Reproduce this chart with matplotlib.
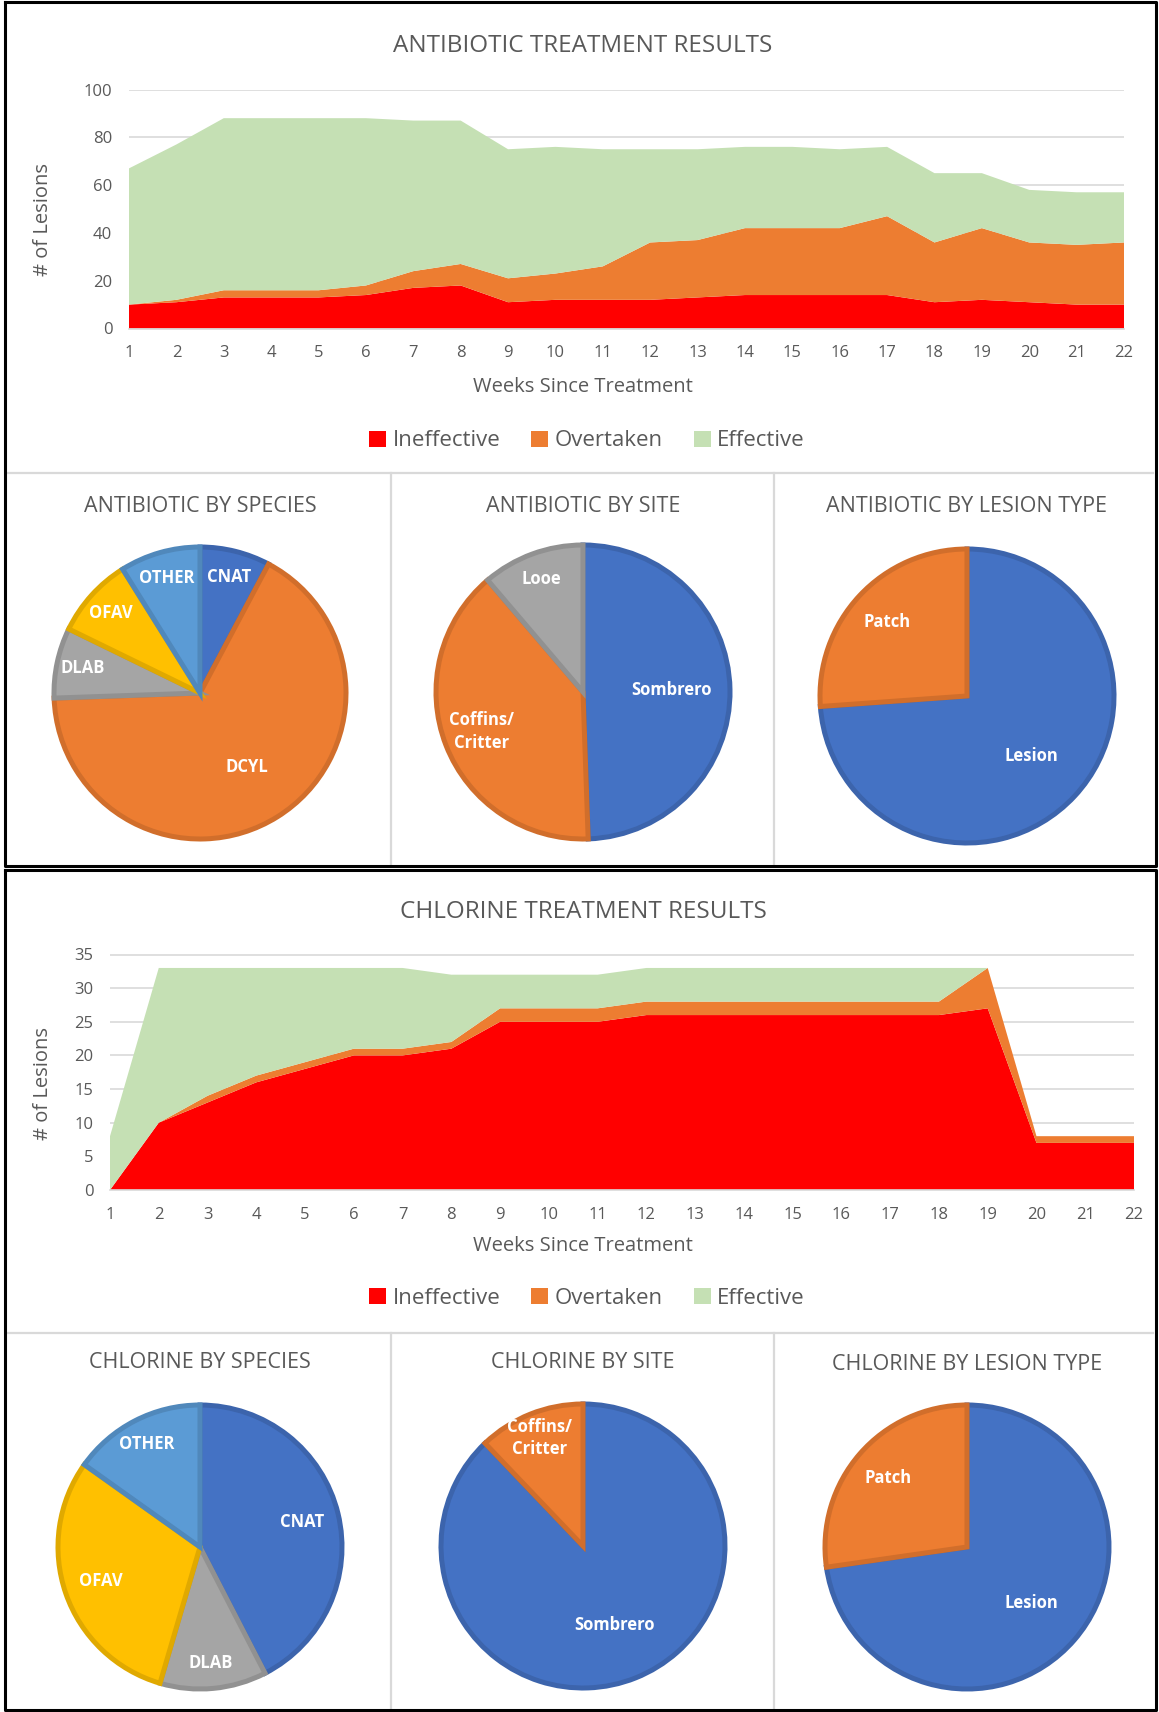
import matplotlib
matplotlib.use("Agg")
import matplotlib.pyplot as plt
from matplotlib.patches import Patch
import numpy as np

plt.rcParams['font.family'] = ['Open Sans', 'DejaVu Sans']

W, H = 1159, 1712

# ---- data ----
weeks = list(range(1, 23))

# antibiotic treatment, lesions per outcome each week
ab_ineffective = [10, 11, 13, 13, 13, 14, 17, 18, 11, 12, 12, 12, 13, 14, 14, 14, 14, 11, 12, 11, 10, 10]
ab_overtaken = [0, 1, 3, 3, 3, 4, 7, 9, 10, 11, 14, 24, 24, 28, 28, 28, 33, 25, 30, 25, 25, 26]
ab_effective = [57, 65, 72, 72, 72, 70, 63, 60, 54, 53, 49, 39, 38, 34, 34, 33, 29, 29, 23, 22, 22, 21]

# chlorine treatment, lesions per outcome each week
cl_ineffective = [0, 10, 13, 16, 18, 20, 20, 21, 25, 25, 25, 26, 26, 26, 26, 26, 26, 26, 27, 7, 7, 7]
cl_overtaken = [0, 0, 1, 1, 1, 1, 1, 1, 2, 2, 2, 2, 2, 2, 2, 2, 2, 2, 6, 1, 1, 1]
cl_effective = [8, 23, 19, 16, 14, 12, 12, 10, 5, 5, 5, 5, 5, 5, 5, 5, 5, 5, 0, 0, 0, 0]

outcome_names = ['Ineffective', 'Overtaken', 'Effective']

ab_species_names = ['CNAT', 'DCYL', 'DLAB', 'OFAV', 'OTHER']
ab_species_counts = [7, 60, 7, 8, 8]
ab_site_names = ['Sombrero', 'Coffins/\nCritter', 'Looe']
ab_site_counts = [44, 35, 10]
ab_type_names = ['Lesion', 'Patch']
ab_type_counts = [65, 23]

cl_species_names = ['CNAT', 'DLAB', 'OFAV', 'OTHER']
cl_species_counts = [14, 4, 10, 5]
cl_site_names = ['Sombrero', 'Coffins/\nCritter']
cl_site_counts = [29, 4]
cl_type_names = ['Lesion', 'Patch']
cl_type_counts = [24, 9]

# ---- styling ----
AREA_COLORS = ['#FF0000', '#ED7D31', '#C5E0B4']
SPECIES_COLORS = {'CNAT': '#4472C4', 'DCYL': '#ED7D31', 'DLAB': '#A5A5A5',
                  'OFAV': '#FFC000', 'OTHER': '#5B9BD5'}
SITE_COLORS = ['#4472C4', '#ED7D31', '#A5A5A5']
TYPE_COLORS = ['#4472C4', '#ED7D31']
TXT = '#595959'
GRID = '#D9D9D9'


def darker(c, f=0.88):
    r, g, b = matplotlib.colors.to_rgb(c)
    return (r * f, g * f, b * f)


fig = plt.figure(figsize=(W / 100, H / 100), dpi=100)
fig.patch.set_facecolor('white')

# background axes in pixel coords for borders and loose text
bg = fig.add_axes([0, 0, 1, 1])
bg.set_xlim(0, W)
bg.set_ylim(H, 0)
bg.axis('off')


def ax_px(x0, y0, x1, y1):
    return fig.add_axes([x0 / W, 1 - y1 / H, (x1 - x0) / W, (y1 - y0) / H])


def area_chart(box, series, ymax, ystep, title, title_y, xlabel_y, ylabel_y, legend_y):
    ax = ax_px(*box)
    ax.stackplot(weeks, *series, colors=AREA_COLORS, linewidth=0, labels=outcome_names)
    ax.set_xlim(1, 22)
    ax.set_ylim(0, ymax)
    ax.set_xticks(weeks)
    ax.set_yticks(np.arange(0, ymax + 1, ystep))
    ax.tick_params(length=0, labelsize=12, colors=TXT, pad=12)
    ax.grid(axis='y', color=GRID, linewidth=1.2)
    ax.set_axisbelow(True)
    for s in ['top', 'right', 'left']:
        ax.spines[s].set_visible(False)
    ax.spines['bottom'].set_color(GRID)
    ax.spines['bottom'].set_linewidth(1.2)
    ax.set_facecolor('none')
    bg.text(583, title_y, title, ha='center', va='center', fontsize=17.5, color=TXT)
    bg.text(583, xlabel_y, 'Weeks Since Treatment', ha='center', va='center', fontsize=14.5, color=TXT)
    bg.text(43, ylabel_y, '# of Lesions', ha='center', va='center', rotation=90, fontsize=14.5, color=TXT)
    handles = [Patch(facecolor=c, edgecolor='none') for c in AREA_COLORS]
    ax.legend(handles, outcome_names, loc='center', bbox_to_anchor=(587 / W, 1 - legend_y / H),
              bbox_transform=fig.transFigure, ncol=3, frameon=False, fontsize=16,
              handlelength=0.75, handleheight=0.75, handletextpad=0.3, columnspacing=1.4,
              labelcolor=TXT)
    return ax


def pie_chart(cx, cy, r, values, names, colors, title, title_y):
    pad = 5
    ax = ax_px(cx - r - pad, cy - r - pad, cx + r + pad, cy + r + pad)
    lim = (r + pad) / r
    wedges, texts = ax.pie(values, labels=names, colors=colors, startangle=90, counterclock=False,
                           radius=1, labeldistance=0.7,
                           wedgeprops=dict(linewidth=3.6),
                           textprops=dict(color='white', fontweight='bold', fontsize=12,
                                          ha='center', va='center', linespacing=1.3))
    total = float(sum(values))
    for w, t, v, c in zip(wedges, texts, values, colors):
        w.set_edgecolor(darker(c))
        frac = v / total
        d = 0.82 if frac < 0.2 else (0.74 if frac < 0.45 else 0.6)
        ang = np.deg2rad((w.theta1 + w.theta2) / 2)
        t.set_position((d * np.cos(ang), d * np.sin(ang)))
        t.set_ha('center')
    ax.set_xlim(-lim, lim)
    ax.set_ylim(-lim, lim)
    ax.set_aspect('equal')
    bg.text(cx, title_y, title, ha='center', va='center', fontsize=15.5, color=TXT)
    return ax


# ---- top panel: antibiotic ----
area_chart((129, 89.5, 1124, 328.5), [ab_ineffective, ab_overtaken, ab_effective], 100, 20,
           'ANTIBIOTIC TREATMENT RESULTS', 46, 387, 219, 441)

pie_chart(200, 693, 146, ab_species_counts, ab_species_names,
          [SPECIES_COLORS[n] for n in ab_species_names], 'ANTIBIOTIC BY SPECIES', 506)
pie_chart(583, 692, 147, ab_site_counts, ab_site_names, SITE_COLORS, 'ANTIBIOTIC BY SITE', 506)
pie_chart(967, 696, 147, ab_type_counts, ab_type_names, TYPE_COLORS, 'ANTIBIOTIC BY LESION TYPE', 506)

# ---- bottom panel: chlorine ----
area_chart((110, 954.5, 1134, 1190), [cl_ineffective, cl_overtaken, cl_effective], 35, 5,
           'CHLORINE TREATMENT RESULTS', 912, 1246, 1083, 1298)

pie_chart(200, 1547, 142, cl_species_counts, cl_species_names,
          [SPECIES_COLORS[n] for n in cl_species_names], 'CHLORINE BY SPECIES', 1363)
pie_chart(583, 1546, 142, cl_site_counts, cl_site_names, TYPE_COLORS, 'CHLORINE BY SITE', 1363)
pie_chart(967, 1547, 142, cl_type_counts, cl_type_names, TYPE_COLORS, 'CHLORINE BY LESION TYPE', 1364)

# ---- panel borders and dividers ----
for y0, y1, ydiv in [(2, 866, 473), (870, 1710, 1333)]:
    bg.plot([8, 1153], [ydiv, ydiv], color=GRID, lw=1.6)
    bg.plot([391, 391], [ydiv, y1], color=GRID, lw=1.6)
    bg.plot([774, 774], [ydiv, y1], color=GRID, lw=1.6)
    bg.plot([5, 1156, 1156, 5, 5], [y0, y0, y1, y1, y0], color='black', lw=2.2)

fig.savefig('out.png', dpi=100, facecolor='white')
